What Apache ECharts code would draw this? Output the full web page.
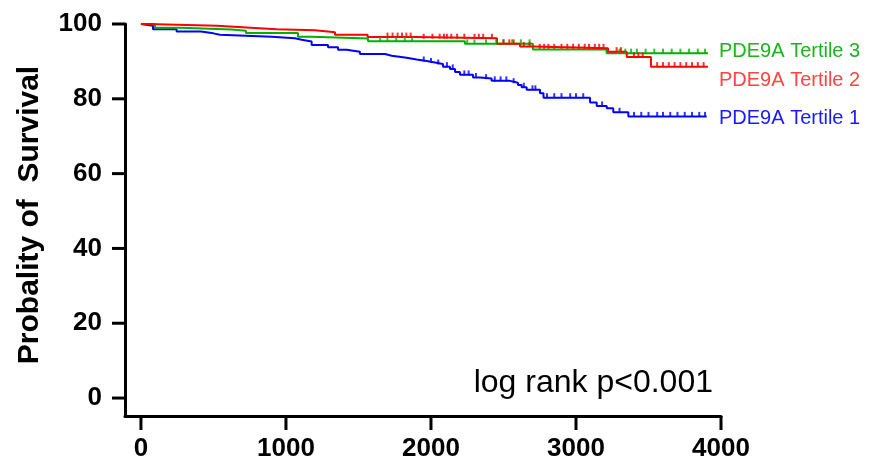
<!DOCTYPE html>
<html>
<head>
<meta charset="utf-8">
<script src="https://cdn.jsdelivr.net/npm/echarts@6/dist/echarts.min.js"></script>
<style>
html,body{margin:0;padding:0;background:#fff;}
#chart{width:872px;height:472px;}
</style>
</head>
<body>
<div id="chart"></div>
<script>
// Kaplan-Meier steps: [time, survival %] (survival held from time onward)
var tertile1 = [[0,100],[12,99.5],[83,98.6],[246,98.0],[414,97.5],[499,97.1],[545,96.6],[901,96.2],[1062,95.8],[1108,95.3],[1177,94.4],[1290,93.8],[1359,93.1],[1418,92.6],[1510,92.0],[1683,91.5],[1729,91.0],[1832,90.5],[1901,90.1],[1970,89.7],[2028,89.3],[2083,88.6],[2131,88.0],[2166,87.2],[2200,86.4],[2290,85.7],[2338,85.4],[2418,84.8],[2545,84.3],[2600,83.7],[2625,83.1],[2660,82.4],[2752,81.5],[2776,80.3],[3097,79.0],[3143,78.1],[3212,77.5],[3257,76.4],[3361,75.3],[3901,75.3]];
var tertile2 = [[0,100],[40,99.5],[525,99.0],[756,98.6],[936,98.3],[1200,97.8],[1338,97.1],[1563,96.5],[1890,96.2],[2455,94.7],[2614,94.0],[2703,93.5],[3221,92.6],[3350,91.2],[3517,88.6],[3910,88.6]];
var tertile3 = [[0,100],[97,99.0],[269,98.5],[625,98.2],[724,97.6],[1083,96.6],[1177,96.1],[1566,95.4],[2234,94.7],[2703,93.2],[3211,92.2],[3910,92.2]];
// censoring times
var censor1 = [1950,2000,2050,2110,2150,2230,2260,2310,2380,2440,2480,2520,2570,2640,2700,2720,2800,2850,2900,2960,3000,3050,3180,3300,3400,3450,3500,3560,3600,3650,3700,3750,3800,3850,3890];
var censor2 = [1700,1735,1770,1800,1830,1860,1950,2010,2060,2090,2110,2140,2180,2230,2300,2330,2360,2420,2500,2540,2570,2640,2680,2750,2780,2810,2850,2900,2940,2980,3020,3060,3090,3130,3160,3190,3280,3310,3400,3430,3460,3560,3600,3640,3680,3720,3760,3800,3840,3880];
var censor3 = [1650,1700,1760,1820,1870,2250,2300,2380,2450,2500,2560,2620,2680,3300,3340,3380,3420,3480,3540,3600,3660,3720,3780,3840,3890];
var xTicks = [0,1000,2000,3000,4000];
var yTicks = [0,20,40,60,80,100];
var seriesNames = ['PDE9A Tertile 1','PDE9A Tertile 2','PDE9A Tertile 3'];

var X_MIN = -110, X_MAX = 4000, Y_MIN = -4.8, Y_MAX = 100;

function survAt(curve, t){
  var v = curve[0][1];
  for (var i=0;i<curve.length;i++){ if (curve[i][0] <= t) v = curve[i][1]; }
  return v;
}
function censorPts(curve, times){ return times.map(function(t){ return [t, survAt(curve,t)]; }); }

var colors = {blue:'#0000ff', red:'#ff0000', green:'#00b000'};
var font = 'Arial, "Liberation Sans", sans-serif';
var plain = function(v){ return String(v); };

var chart = echarts.init(document.getElementById('chart'));
function lineSeries(name, data, color){
  return {name:name, type:'line', step:'end', data:data, symbol:'none',
    lineStyle:{color:color, width:2}, z:3};
}
function censorSeries(name, data, color){
  return {name:name+' censored', type:'scatter', data:data, symbol:'rect',
    symbolSize:[2,5], symbolOffset:[0,-2], itemStyle:{color:color}, z:4};
}
// axis tick marks drawn through the axes' own scales
function tickSeries(data, dx, dy){
  return {type:'custom', data:data, clip:false, silent:true, z:10,
    encode:{x:0, y:1},
    renderItem:function(params, api){
      var p = api.coord([api.value(0), api.value(1)]);
      return {type:'line', shape:{x1:p[0], y1:p[1], x2:p[0]+dx, y2:p[1]+dy},
        style:{stroke:'#000', lineWidth:3}};
    }};
}
chart.setOption({
  animation:false,
  grid:{left:125, right:151, top:24, bottom:56},
  xAxis:{type:'value', min:X_MIN, max:X_MAX,
    axisLine:{show:true, onZero:false, lineStyle:{color:'#000', width:3}},
    axisTick:{show:false},
    axisLabel:{customValues:xTicks, formatter:plain, color:'#000', fontSize:26, fontWeight:'bold', fontFamily:font, margin:20},
    splitLine:{show:false}},
  yAxis:{type:'value', min:Y_MIN, max:Y_MAX,
    axisLine:{show:true, onZero:false, lineStyle:{color:'#000', width:3}},
    axisTick:{show:false},
    axisLabel:{customValues:yTicks, formatter:plain, color:'#000', fontSize:26, fontWeight:'bold', fontFamily:font, margin:23},
    splitLine:{show:false}},
  series:[
    lineSeries(seriesNames[0], tertile1, colors.blue),
    censorSeries(seriesNames[0], censorPts(tertile1, censor1), colors.blue),
    lineSeries(seriesNames[2], tertile3, colors.green),
    censorSeries(seriesNames[2], censorPts(tertile3, censor3), colors.green),
    lineSeries(seriesNames[1], tertile2, colors.red),
    censorSeries(seriesNames[1], censorPts(tertile2, censor2), colors.red),
    tickSeries(xTicks.map(function(v){ return [v, Y_MIN]; }), 0, 14),
    tickSeries(yTicks.map(function(v){ return [X_MIN, v]; }), -13, 0)
  ],
  graphic:[
    {type:'text', x:30, y:215, rotation:Math.PI/2,
      style:{text:'Probality of  Survival', fill:'#000', font:'bold 30px '+font, textAlign:'center', textVerticalAlign:'middle'}},
    {type:'text', x:719, y:51, style:{text:seriesNames[2], fill:'#1db31d', font:'20px '+font, textVerticalAlign:'middle'}},
    {type:'text', x:719, y:80, style:{text:seriesNames[1], fill:'#ff4444', font:'20px '+font, textVerticalAlign:'middle'}},
    {type:'text', x:719, y:118, style:{text:seriesNames[0], fill:'#1a1aff', font:'20px '+font, textVerticalAlign:'middle'}},
    {type:'text', x:713, y:383, style:{text:'log rank p<0.001', fill:'#000', font:'32px '+font, textAlign:'right', textVerticalAlign:'middle'}}
  ]
});
</script>
</body>
</html>
